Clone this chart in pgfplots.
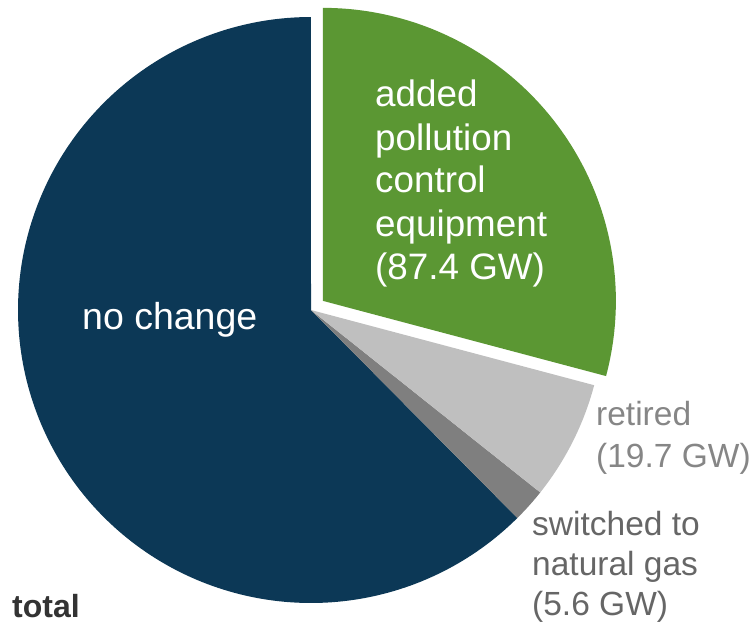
\documentclass[border=0pt]{standalone}
\usepackage{pgfplots}
\usepackage{pgfplotstable}
\pgfplotsset{compat=1.18}
\usepackage{fontspec}
\setmainfont{Liberation Sans}
\definecolor{navy}{HTML}{0C3856}
\definecolor{pgreen}{HTML}{5B9733}
\definecolor{lgray}{HTML}{BFBFBF}
\definecolor{dgray}{HTML}{7F7F7F}
\definecolor{retc}{HTML}{868686}
\definecolor{swc}{HTML}{666666}
\definecolor{totc}{HTML}{333333}
\pgfplotstableread{
label value
nochange 187.3
added 87.4
retired 19.7
switched 5.6
}\pietable
\pgfplotstablegetelem{0}{value}\of\pietable\let\vNo\pgfplotsretval
\pgfplotstablegetelem{1}{value}\of\pietable\let\vAdd\pgfplotsretval
\pgfplotstablegetelem{2}{value}\of\pietable\let\vRet\pgfplotsretval
\pgfplotstablegetelem{3}{value}\of\pietable\let\vSw\pgfplotsretval
\pgfmathsetmacro\vTot{\vNo+\vAdd+\vRet+\vSw}
\pgfmathsetmacro\aA{90-\vAdd/\vTot*360}
\pgfmathsetmacro\aB{\aA-\vRet/\vTot*360}
\pgfmathsetmacro\aC{\aB-\vSw/\vTot*360}
\pgfmathsetmacro\aD{\aC-\vNo/\vTot*360}
\pgfmathsetmacro\mid{(90+\aA)/2}
\def\cx{311}\def\cy{310}\def\R{293}
\pgfmathsetmacro\gx{\cx+15*cos(\mid)}
\pgfmathsetmacro\gy{\cy-15*sin(\mid)}
\begin{document}
\begin{tikzpicture}
\useasboundingbox (0,0) rectangle (755pt,623pt);
\begin{axis}[
  scale only axis, width=755pt, height=623pt,
  xmin=0, xmax=755, ymin=0, ymax=623, y dir=reverse,
  hide axis, clip=false, anchor=south west, at={(0,0)}]
\addplot[fill=navy, draw=none, domain=\aD:\aC, samples=200]
  ({\cx+\R*cos(x)},{\cy-\R*sin(x)}) -- (axis cs:\cx,\cy) -- cycle;
\addplot[fill=dgray, draw=none, domain=\aC:\aB, samples=20]
  ({\cx+\R*cos(x)},{\cy-\R*sin(x)}) -- (axis cs:\cx,\cy) -- cycle;
\addplot[fill=lgray, draw=none, domain=\aB:\aA, samples=40]
  ({\cx+\R*cos(x)},{\cy-\R*sin(x)}) -- (axis cs:\cx,\cy) -- cycle;
\addplot[fill=pgreen, draw=none, domain=\aA:90, samples=120]
  ({\gx+\R*cos(x)},{\gy-\R*sin(x)}) -- (axis cs:\gx,\gy) -- cycle;
% labels
\begin{scope}[every node/.style={anchor=base west, inner sep=0pt, font=\fontsize{36.8}{43}\selectfont, text=white}]
\node at (axis cs:375,107) {added};
\node at (axis cs:375,150) {pollution};
\node at (axis cs:375,193) {control};
\node at (axis cs:375,236) {equipment};
\node at (axis cs:375,279) {(87.4 GW)};
\node[font=\fontsize{37.5}{43}\selectfont] at (axis cs:82,329) {no change};
\end{scope}
\begin{scope}[every node/.style={anchor=base west, inner sep=0pt, font=\fontsize{33.5}{42}\selectfont}]
\node[text=retc] at (axis cs:596,425) {retired};
\node[text=retc] at (axis cs:596,467) {(19.7 GW)};
\node[text=swc] at (axis cs:532,535) {switched to};
\node[text=swc] at (axis cs:532,575) {natural gas};
\node[text=swc] at (axis cs:532,615) {(5.6 GW)};
\node[text=totc, font=\fontsize{32}{38}\selectfont\bfseries] at (axis cs:12,617) {total};
\end{scope}
\end{axis}
\end{tikzpicture}
\end{document}
